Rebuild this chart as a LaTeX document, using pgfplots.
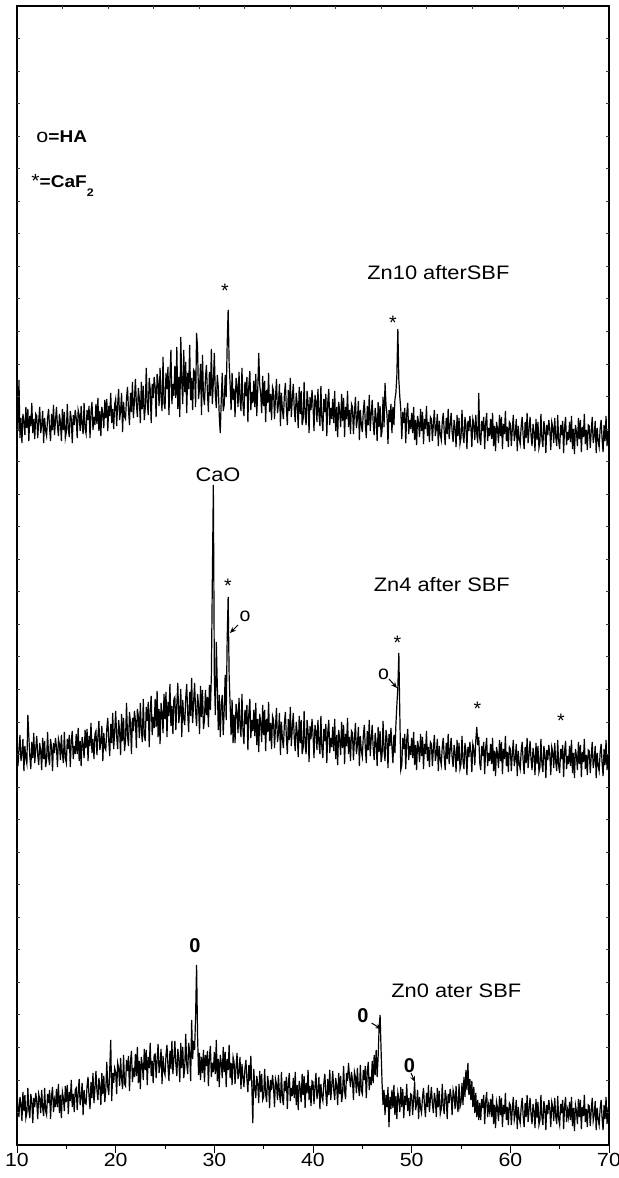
\documentclass[border=0pt]{standalone}
\usepackage{fontspec}
\setmainfont{Liberation Sans}
\usepackage{graphicx}
\usepackage{pgfplots}
\usepackage{pgfplotstable}
\pgfplotsset{compat=1.18}
\usetikzlibrary{arrows.meta}

\newcommand\sx[1]{\scalebox{1.12}[1]{#1}}
\newcommand\lab{\fontsize{9.75}{11}\selectfont}

% XRD intensities, step 0.1 deg from 10 to 70 (one row per degree)
\pgfplotstableread[row sep=\\]{y\\
734\\ 714\\ 765\\ 707\\ 727\\ 702\\ 731\\ 724\\ 710\\ 738\\
717\\ 736\\ 704\\ 729\\ 719\\ 742\\ 712\\ 726\\ 706\\ 731\\
729\\ 707\\ 724\\ 738\\ 712\\ 719\\ 734\\ 702\\ 727\\ 714\\
709\\ 727\\ 736\\ 717\\ 704\\ 731\\ 715\\ 740\\ 710\\ 724\\
738\\ 719\\ 709\\ 731\\ 723\\ 704\\ 736\\ 715\\ 733\\ 707\\
713\\ 741\\ 716\\ 708\\ 734\\ 726\\ 702\\ 730\\ 720\\ 735\\
727\\ 707\\ 735\\ 730\\ 714\\ 739\\ 720\\ 711\\ 742\\ 716\\
711\\ 735\\ 725\\ 739\\ 707\\ 733\\ 743\\ 715\\ 728\\ 720\\
741\\ 721\\ 747\\ 714\\ 734\\ 709\\ 738\\ 731\\ 717\\ 745\\
727\\ 746\\ 714\\ 739\\ 729\\ 752\\ 722\\ 736\\ 716\\ 741\\
746\\ 719\\ 740\\ 756\\ 725\\ 734\\ 752\\ 713\\ 743\\ 728\\
726\\ 747\\ 758\\ 735\\ 720\\ 752\\ 733\\ 763\\ 727\\ 744\\
766\\ 741\\ 728\\ 757\\ 746\\ 722\\ 763\\ 736\\ 759\\ 725\\
737\\ 777\\ 742\\ 730\\ 767\\ 756\\ 722\\ 761\\ 747\\ 768\\
758\\ 728\\ 771\\ 763\\ 739\\ 777\\ 748\\ 734\\ 788\\ 742\\
736\\ 772\\ 756\\ 778\\ 730\\ 768\\ 795\\ 741\\ 761\\ 749\\
779\\ 747\\ 798\\ 736\\ 768\\ 728\\ 808\\ 763\\ 741\\ 795\\
753\\ 783\\ 732\\ 772\\ 756\\ 800\\ 745\\ 767\\ 735\\ 775\\
773\\ 738\\ 812\\ 797\\ 746\\ 757\\ 781\\ 730\\ 790\\ 749\\
740\\ 767\\ 780\\ 752\\ 733\\ 773\\ 749\\ 796\\ 741\\ 763\\
792\\ 751\\ 737\\ 770\\ 758\\ 729\\ 712\\ 745\\ 772\\ 734\\
740\\ 770\\ 748\\ 800\\ 835\\ 782\\ 760\\ 735\\ 772\\ 745\\
756\\ 728\\ 767\\ 760\\ 738\\ 773\\ 746\\ 734\\ 777\\ 741\\
729\\ 763\\ 749\\ 768\\ 723\\ 760\\ 774\\ 735\\ 753\\ 742\\
764\\ 738\\ 771\\ 729\\ 755\\ 792\\ 760\\ 751\\ 732\\ 769\\
739\\ 764\\ 723\\ 755\\ 742\\ 772\\ 733\\ 751\\ 725\\ 758\\
754\\ 726\\ 748\\ 766\\ 732\\ 741\\ 761\\ 719\\ 752\\ 735\\
726\\ 750\\ 762\\ 737\\ 720\\ 755\\ 734\\ 767\\ 728\\ 746\\
761\\ 736\\ 723\\ 752\\ 741\\ 717\\ 758\\ 731\\ 754\\ 720\\
726\\ 763\\ 730\\ 720\\ 754\\ 743\\ 712\\ 748\\ 735\\ 755\\
740\\ 714\\ 750\\ 744\\ 723\\ 756\\ 731\\ 719\\ 759\\ 726\\
714\\ 746\\ 733\\ 751\\ 709\\ 743\\ 756\\ 720\\ 737\\ 726\\
746\\ 722\\ 754\\ 714\\ 738\\ 708\\ 743\\ 734\\ 718\\ 751\\
724\\ 747\\ 708\\ 738\\ 726\\ 754\\ 718\\ 735\\ 711\\ 741\\
738\\ 711\\ 732\\ 748\\ 717\\ 726\\ 744\\ 705\\ 735\\ 720\\
713\\ 734\\ 745\\ 722\\ 707\\ 739\\ 720\\ 750\\ 714\\ 731\\
745\\ 722\\ 710\\ 737\\ 727\\ 704\\ 743\\ 718\\ 739\\ 708\\
714\\ 748\\ 718\\ 762\\ 740\\ 730\\ 701\\ 735\\ 723\\ 741\\
712\\ 738\\ 720\\ 745\\ 752\\ 770\\ 816\\ 765\\ 748\\ 735\\
706\\ 733\\ 722\\ 737\\ 702\\ 731\\ 742\\ 711\\ 725\\ 716\\
732\\ 712\\ 738\\ 705\\ 725\\ 700\\ 729\\ 722\\ 708\\ 736\\
714\\ 733\\ 701\\ 726\\ 716\\ 739\\ 709\\ 723\\ 703\\ 728\\
726\\ 704\\ 721\\ 735\\ 709\\ 716\\ 731\\ 699\\ 724\\ 711\\
705\\ 723\\ 732\\ 713\\ 700\\ 727\\ 711\\ 736\\ 706\\ 720\\
732\\ 713\\ 703\\ 725\\ 717\\ 698\\ 730\\ 709\\ 727\\ 701\\
707\\ 735\\ 710\\ 702\\ 728\\ 720\\ 696\\ 724\\ 714\\ 729\\
718\\ 698\\ 726\\ 721\\ 705\\ 730\\ 711\\ 702\\ 752\\ 707\\
700\\ 724\\ 714\\ 728\\ 696\\ 722\\ 732\\ 704\\ 717\\ 709\\
726\\ 706\\ 732\\ 699\\ 719\\ 694\\ 723\\ 716\\ 702\\ 730\\
709\\ 728\\ 696\\ 721\\ 711\\ 734\\ 704\\ 718\\ 698\\ 723\\
721\\ 699\\ 716\\ 730\\ 704\\ 711\\ 726\\ 694\\ 719\\ 706\\
701\\ 719\\ 728\\ 709\\ 696\\ 723\\ 707\\ 732\\ 702\\ 716\\
728\\ 709\\ 699\\ 721\\ 713\\ 694\\ 726\\ 705\\ 723\\ 697\\
703\\ 731\\ 706\\ 698\\ 724\\ 716\\ 692\\ 720\\ 710\\ 725\\
715\\ 695\\ 723\\ 718\\ 702\\ 727\\ 708\\ 699\\ 730\\ 704\\
696\\ 720\\ 710\\ 724\\ 692\\ 718\\ 728\\ 700\\ 713\\ 705\\
723\\ 703\\ 729\\ 696\\ 716\\ 691\\ 720\\ 713\\ 699\\ 727\\
706\\ 725\\ 693\\ 718\\ 708\\ 731\\ 701\\ 715\\ 695\\ 720\\
719\\ 697\\ 714\\ 728\\ 702\\ 709\\ 724\\ 692\\ 717\\ 704\\
698\\ 716\\ 725\\ 706\\ 693\\ 720\\ 704\\ 729\\ 699\\ 713\\
712\\
}\znten

\pgfplotstableread[row sep=\\]{y\\
401\\ 379\\ 396\\ 410\\ 384\\ 391\\ 406\\ 374\\ 399\\ 386\\
381\\ 430\\ 408\\ 389\\ 376\\ 403\\ 387\\ 412\\ 382\\ 396\\
409\\ 390\\ 380\\ 402\\ 394\\ 375\\ 407\\ 386\\ 404\\ 378\\
385\\ 413\\ 388\\ 380\\ 406\\ 398\\ 374\\ 402\\ 392\\ 407\\
398\\ 378\\ 406\\ 401\\ 385\\ 410\\ 391\\ 382\\ 413\\ 387\\
382\\ 406\\ 396\\ 410\\ 378\\ 404\\ 414\\ 386\\ 399\\ 391\\
411\\ 391\\ 417\\ 384\\ 404\\ 379\\ 408\\ 401\\ 387\\ 415\\
397\\ 416\\ 384\\ 409\\ 399\\ 422\\ 392\\ 406\\ 386\\ 411\\
414\\ 390\\ 408\\ 424\\ 395\\ 403\\ 419\\ 384\\ 412\\ 397\\
395\\ 416\\ 427\\ 404\\ 389\\ 421\\ 402\\ 432\\ 396\\ 413\\
434\\ 409\\ 396\\ 425\\ 414\\ 390\\ 431\\ 404\\ 427\\ 394\\
405\\ 442\\ 409\\ 399\\ 433\\ 422\\ 391\\ 427\\ 414\\ 434\\
425\\ 397\\ 436\\ 429\\ 407\\ 442\\ 415\\ 403\\ 446\\ 410\\
404\\ 438\\ 424\\ 443\\ 398\\ 435\\ 449\\ 410\\ 428\\ 417\\
446\\ 418\\ 454\\ 408\\ 436\\ 401\\ 442\\ 432\\ 412\\ 451\\
426\\ 453\\ 408\\ 443\\ 429\\ 461\\ 419\\ 439\\ 411\\ 446\\
448\\ 415\\ 441\\ 462\\ 422\\ 433\\ 456\\ 408\\ 445\\ 426\\
420\\ 447\\ 461\\ 432\\ 413\\ 453\\ 429\\ 467\\ 422\\ 443\\
462\\ 434\\ 419\\ 451\\ 440\\ 411\\ 459\\ 428\\ 455\\ 416\\
425\\ 455\\ 430\\ 448\\ 418\\ 460\\ 435\\ 470\\ 567\\ 660\\
470\\ 430\\ 503\\ 460\\ 415\\ 450\\ 408\\ 440\\ 450\\ 410\\
435\\ 470\\ 425\\ 505\\ 548\\ 470\\ 440\\ 410\\ 445\\ 402\\
430\\ 402\\ 441\\ 434\\ 412\\ 447\\ 420\\ 408\\ 451\\ 415\\
401\\ 435\\ 421\\ 440\\ 395\\ 432\\ 446\\ 407\\ 425\\ 414\\
435\\ 409\\ 442\\ 400\\ 426\\ 393\\ 431\\ 422\\ 403\\ 440\\
410\\ 435\\ 394\\ 426\\ 413\\ 443\\ 404\\ 422\\ 396\\ 429\\
425\\ 397\\ 419\\ 437\\ 403\\ 412\\ 432\\ 390\\ 423\\ 406\\
397\\ 421\\ 433\\ 408\\ 391\\ 426\\ 405\\ 438\\ 399\\ 417\\
432\\ 407\\ 394\\ 423\\ 412\\ 388\\ 429\\ 402\\ 425\\ 391\\
397\\ 434\\ 401\\ 391\\ 425\\ 414\\ 383\\ 419\\ 406\\ 426\\
411\\ 387\\ 420\\ 414\\ 395\\ 425\\ 402\\ 391\\ 429\\ 397\\
387\\ 416\\ 404\\ 421\\ 382\\ 413\\ 425\\ 392\\ 407\\ 398\\
418\\ 394\\ 426\\ 386\\ 410\\ 380\\ 415\\ 406\\ 390\\ 423\\
397\\ 420\\ 381\\ 411\\ 399\\ 427\\ 391\\ 408\\ 384\\ 414\\
412\\ 385\\ 406\\ 422\\ 391\\ 400\\ 418\\ 379\\ 409\\ 394\\
388\\ 409\\ 420\\ 397\\ 382\\ 414\\ 395\\ 425\\ 389\\ 406\\
420\\ 397\\ 385\\ 412\\ 402\\ 379\\ 418\\ 393\\ 414\\ 383\\
390\\ 424\\ 394\\ 384\\ 415\\ 406\\ 377\\ 411\\ 399\\ 417\\
398\\ 382\\ 410\\ 392\\ 420\\ 440\\ 458\\ 492\\ 430\\ 375\\
380\\ 407\\ 396\\ 411\\ 376\\ 405\\ 416\\ 385\\ 399\\ 390\\
407\\ 387\\ 413\\ 380\\ 400\\ 375\\ 404\\ 397\\ 383\\ 411\\
389\\ 408\\ 376\\ 401\\ 391\\ 414\\ 384\\ 398\\ 378\\ 403\\
401\\ 379\\ 396\\ 410\\ 384\\ 391\\ 406\\ 374\\ 399\\ 386\\
380\\ 398\\ 407\\ 388\\ 375\\ 402\\ 386\\ 411\\ 381\\ 395\\
407\\ 388\\ 378\\ 400\\ 392\\ 373\\ 405\\ 384\\ 402\\ 376\\
381\\ 409\\ 384\\ 376\\ 402\\ 394\\ 370\\ 398\\ 388\\ 403\\
393\\ 373\\ 401\\ 396\\ 380\\ 405\\ 418\\ 400\\ 408\\ 382\\
375\\ 399\\ 389\\ 403\\ 371\\ 397\\ 407\\ 379\\ 392\\ 384\\
401\\ 381\\ 407\\ 374\\ 394\\ 369\\ 398\\ 391\\ 377\\ 405\\
384\\ 403\\ 371\\ 396\\ 386\\ 409\\ 379\\ 393\\ 373\\ 398\\
396\\ 374\\ 391\\ 405\\ 379\\ 386\\ 401\\ 369\\ 394\\ 381\\
376\\ 394\\ 403\\ 384\\ 371\\ 398\\ 382\\ 407\\ 377\\ 391\\
404\\ 385\\ 375\\ 397\\ 389\\ 370\\ 402\\ 381\\ 399\\ 373\\
378\\ 406\\ 381\\ 373\\ 399\\ 391\\ 367\\ 395\\ 385\\ 400\\
390\\ 370\\ 398\\ 393\\ 377\\ 402\\ 383\\ 374\\ 405\\ 379\\
372\\ 396\\ 386\\ 400\\ 368\\ 394\\ 404\\ 376\\ 389\\ 381\\
399\\ 379\\ 405\\ 372\\ 392\\ 367\\ 396\\ 389\\ 375\\ 403\\
381\\ 400\\ 368\\ 393\\ 383\\ 406\\ 376\\ 390\\ 370\\ 395\\
394\\ 372\\ 389\\ 403\\ 377\\ 384\\ 399\\ 367\\ 392\\ 379\\
374\\ 392\\ 401\\ 382\\ 369\\ 396\\ 380\\ 405\\ 375\\ 389\\
388\\
}\znfour

\pgfplotstableread[row sep=\\]{y\\
54\\ 37\\ 28\\ 48\\ 41\\ 24\\ 53\\ 34\\ 50\\ 27\\
32\\ 57\\ 35\\ 27\\ 51\\ 44\\ 22\\ 47\\ 38\\ 52\\
44\\ 26\\ 51\\ 46\\ 32\\ 55\\ 37\\ 29\\ 57\\ 34\\
30\\ 51\\ 42\\ 55\\ 26\\ 49\\ 58\\ 33\\ 45\\ 38\\
56\\ 38\\ 61\\ 32\\ 50\\ 27\\ 53\\ 47\\ 34\\ 59\\
43\\ 60\\ 31\\ 53\\ 44\\ 65\\ 38\\ 51\\ 33\\ 55\\
57\\ 35\\ 52\\ 66\\ 40\\ 47\\ 62\\ 30\\ 55\\ 42\\
41\\ 59\\ 68\\ 49\\ 36\\ 63\\ 47\\ 72\\ 42\\ 56\\
74\\ 55\\ 45\\ 67\\ 59\\ 40\\ 72\\ 51\\ 69\\ 43\\
55\\ 83\\ 58\\ 50\\ 76\\ 105\\ 44\\ 72\\ 62\\ 77\\
73\\ 51\\ 82\\ 77\\ 59\\ 87\\ 66\\ 56\\ 90\\ 61\\
59\\ 85\\ 74\\ 89\\ 54\\ 83\\ 94\\ 63\\ 77\\ 68\\
91\\ 69\\ 98\\ 62\\ 84\\ 56\\ 88\\ 80\\ 65\\ 96\\
75\\ 95\\ 60\\ 88\\ 77\\ 102\\ 69\\ 84\\ 62\\ 90\\
91\\ 67\\ 85\\ 101\\ 72\\ 80\\ 96\\ 61\\ 89\\ 74\\
70\\ 90\\ 100\\ 79\\ 64\\ 94\\ 76\\ 104\\ 71\\ 86\\
104\\ 81\\ 69\\ 96\\ 86\\ 63\\ 102\\ 77\\ 98\\ 67\\
77\\ 111\\ 81\\ 71\\ 102\\ 93\\ 64\\ 125\\ 86\\ 104\\
95\\ 128\\ 180\\ 110\\ 70\\ 92\\ 65\\ 88\\ 72\\ 95\\
63\\ 90\\ 79\\ 94\\ 59\\ 88\\ 99\\ 68\\ 82\\ 73\\
93\\ 71\\ 105\\ 64\\ 86\\ 58\\ 90\\ 82\\ 67\\ 98\\
73\\ 93\\ 58\\ 86\\ 75\\ 100\\ 67\\ 82\\ 60\\ 88\\
83\\ 61\\ 78\\ 92\\ 66\\ 73\\ 88\\ 56\\ 81\\ 68\\
58\\ 76\\ 85\\ 66\\ 53\\ 80\\ 64\\ 89\\ 59\\ 22\\
76\\ 57\\ 47\\ 69\\ 61\\ 42\\ 74\\ 53\\ 71\\ 45\\
48\\ 76\\ 51\\ 43\\ 69\\ 61\\ 37\\ 65\\ 55\\ 70\\
58\\ 38\\ 66\\ 61\\ 45\\ 70\\ 51\\ 42\\ 73\\ 47\\
40\\ 64\\ 54\\ 68\\ 36\\ 62\\ 72\\ 44\\ 57\\ 49\\
67\\ 47\\ 73\\ 40\\ 60\\ 35\\ 64\\ 57\\ 43\\ 71\\
50\\ 69\\ 37\\ 62\\ 52\\ 75\\ 45\\ 59\\ 39\\ 64\\
63\\ 41\\ 58\\ 72\\ 46\\ 53\\ 68\\ 36\\ 61\\ 48\\
44\\ 62\\ 71\\ 52\\ 39\\ 66\\ 50\\ 75\\ 45\\ 59\\
74\\ 55\\ 45\\ 67\\ 59\\ 40\\ 72\\ 51\\ 69\\ 43\\
51\\ 79\\ 54\\ 46\\ 72\\ 64\\ 82\\ 68\\ 58\\ 73\\
65\\ 45\\ 73\\ 68\\ 52\\ 77\\ 58\\ 49\\ 80\\ 54\\
51\\ 75\\ 65\\ 79\\ 47\\ 73\\ 83\\ 55\\ 68\\ 60\\
84\\ 62\\ 90\\ 70\\ 95\\ 68\\ 88\\ 117\\ 130\\ 95\\
62\\ 40\\ 55\\ 30\\ 50\\ 38\\ 58\\ 18\\ 48\\ 36\\
55\\ 37\\ 60\\ 30\\ 49\\ 26\\ 52\\ 46\\ 33\\ 58\\
38\\ 56\\ 27\\ 49\\ 40\\ 61\\ 34\\ 47\\ 29\\ 51\\
50\\ 30\\ 46\\ 63\\ 35\\ 41\\ 55\\ 26\\ 48\\ 37\\
32\\ 48\\ 57\\ 39\\ 28\\ 52\\ 38\\ 60\\ 33\\ 46\\
58\\ 41\\ 32\\ 52\\ 45\\ 28\\ 57\\ 38\\ 54\\ 31\\
36\\ 61\\ 39\\ 31\\ 55\\ 48\\ 26\\ 51\\ 42\\ 56\\
48\\ 30\\ 55\\ 50\\ 36\\ 59\\ 41\\ 33\\ 61\\ 38\\
42\\ 62\\ 40\\ 68\\ 48\\ 75\\ 55\\ 82\\ 50\\ 66\\
45\\ 64\\ 38\\ 58\\ 32\\ 52\\ 28\\ 45\\ 25\\ 42\\
25\\ 46\\ 37\\ 50\\ 21\\ 44\\ 53\\ 28\\ 40\\ 33\\
46\\ 28\\ 51\\ 21\\ 40\\ 17\\ 43\\ 37\\ 24\\ 49\\
30\\ 47\\ 18\\ 40\\ 31\\ 52\\ 25\\ 38\\ 20\\ 42\\
40\\ 20\\ 36\\ 48\\ 25\\ 31\\ 45\\ 16\\ 38\\ 27\\
22\\ 38\\ 47\\ 29\\ 18\\ 42\\ 28\\ 50\\ 23\\ 36\\
47\\ 30\\ 21\\ 41\\ 34\\ 17\\ 46\\ 27\\ 43\\ 20\\
25\\ 50\\ 28\\ 20\\ 44\\ 37\\ 15\\ 40\\ 31\\ 45\\
36\\ 18\\ 43\\ 38\\ 24\\ 47\\ 29\\ 21\\ 49\\ 26\\
20\\ 41\\ 32\\ 45\\ 16\\ 39\\ 48\\ 23\\ 35\\ 28\\
43\\ 25\\ 48\\ 19\\ 37\\ 14\\ 40\\ 34\\ 21\\ 46\\
28\\ 45\\ 16\\ 38\\ 29\\ 50\\ 23\\ 36\\ 18\\ 40\\
39\\ 19\\ 35\\ 47\\ 24\\ 30\\ 44\\ 15\\ 37\\ 26\\
20\\ 36\\ 45\\ 27\\ 15\\ 40\\ 26\\ 48\\ 21\\ 34\\
30\\
}\znzero

\begin{document}
\begin{tikzpicture}
\begin{axis}[
  at={(0,0)}, anchor=south west,
  width=296pt, height=569.5pt, scale only axis,
  xmin=10, xmax=70, ymin=0, ymax=1139,
  axis line style={line width=1pt},
  xtick={10,20,30,40,50,60,70},
  xticklabels={\sx{10},\sx{20},\sx{30},\sx{40},\sx{50},\sx{60},\sx{70}},
  minor x tick num=1,
  tick align=outside,
  xtick pos=left,
  ytick=\empty,
  major tick length=4pt, minor tick length=2pt,
  every tick/.append style={black, line width=0.5pt},
  xticklabel style={font=\fontsize{9.5}{10}\selectfont, inner sep=0pt},
]
\addplot[black, line width=0.6pt] table[x expr=10+0.1*\coordindex, y=y] {\znten};
\addplot[black, line width=0.6pt] table[x expr=10+0.1*\coordindex, y=y] {\znfour};
\addplot[black, line width=0.6pt] table[x expr=10+0.1*\coordindex, y=y] {\znzero};

% key
\node[anchor=base west, inner sep=0pt] at (axis cs:11.93,1002)
  {\sx{{\fontsize{9.6}{10}\selectfont o}{\fontsize{8.5}{10}\selectfont\bfseries =HA}}};
\node[anchor=base west, inner sep=0pt] at (axis cs:11.42,957)
  {\sx{{\fontsize{9.5}{10}\selectfont *}{\fontsize{8.5}{10}\selectfont\bfseries =CaF}\raisebox{-4.5pt}{\fontsize{5.5}{6}\selectfont\bfseries 2}}};

% Zn10
\node[anchor=base west, inner sep=0pt] at (axis cs:45.47,865) {\lab\sx{Zn10 afterSBF}};
\node[anchor=north, inner sep=0pt] at (axis cs:31.08,861.5) {\lab *};
\node[anchor=north, inner sep=0pt] at (axis cs:48.1,829.5) {\lab *};

% Zn4
\node[anchor=base, inner sep=0pt] at (axis cs:30.37,663) {\lab\sx{CaO}};
\node[anchor=north, inner sep=0pt] at (axis cs:31.38,566) {\lab *};
\node[anchor=base, inner sep=0pt] at (axis cs:33.1,523) {\lab o};
\draw[-{Stealth[length=3pt,width=2.5pt]}, line width=0.5pt] (axis cs:32.4,520) -- (axis cs:31.59,512);
\node[anchor=base west, inner sep=0pt] at (axis cs:46.13,553) {\lab\sx{Zn4 after SBF}};
\node[anchor=north, inner sep=0pt] at (axis cs:48.56,509) {\lab *};
\node[anchor=base, inner sep=0pt] at (axis cs:47.14,465) {\lab o};
\draw[-{Stealth[length=3pt,width=2.5pt]}, line width=0.5pt] (axis cs:47.7,466) -- (axis cs:48.51,457);
\node[anchor=north, inner sep=0pt] at (axis cs:56.67,443) {\lab *};
\node[anchor=north, inner sep=0pt] at (axis cs:65.13,431) {\lab *};

% Zn0
\node[anchor=base, inner sep=0pt] at (axis cs:28.04,192) {\fontsize{10}{11}\selectfont\bfseries 0};
\node[anchor=base west, inner sep=0pt] at (axis cs:47.9,147) {\lab\sx{Zn0 ater SBF}};
\node[anchor=base, inner sep=0pt] at (axis cs:45.07,122) {\fontsize{10}{11}\selectfont\bfseries 0};
\draw[-{Stealth[length=3pt,width=2.5pt]}, line width=0.5pt] (axis cs:45.93,122) -- (axis cs:46.93,116);
\node[anchor=base, inner sep=0pt] at (axis cs:49.78,72) {\fontsize{10}{11}\selectfont\bfseries 0};
\draw[-{Stealth[length=3pt,width=2.5pt]}, line width=0.5pt] (axis cs:49.93,72) -- (axis cs:50.34,63);
\end{axis}

% faint inner ticks on the top, left and right edges
\begin{axis}[
  at={(0,0)}, anchor=south west,
  width=296pt, height=569.5pt, scale only axis,
  xmin=10, xmax=70, ymin=0, ymax=1139,
  axis line style={draw=none},
  xtick={14.615,19.231,23.846,28.462,33.077,37.692,42.308,46.923,51.538,56.154,60.769,65.385},
  ytick={32.543,65.086,...,1107},
  xticklabels={}, yticklabels={},
  xtick pos=right, ytick pos=both,
  tick align=inside,
  major tick length=1.5pt,
  every tick/.append style={black!75, line width=0.4pt},
]
\end{axis}

\pgfresetboundingbox
\path (-8.5pt,-16.5pt) rectangle (301pt,572.5pt);
\end{tikzpicture}
\end{document}
